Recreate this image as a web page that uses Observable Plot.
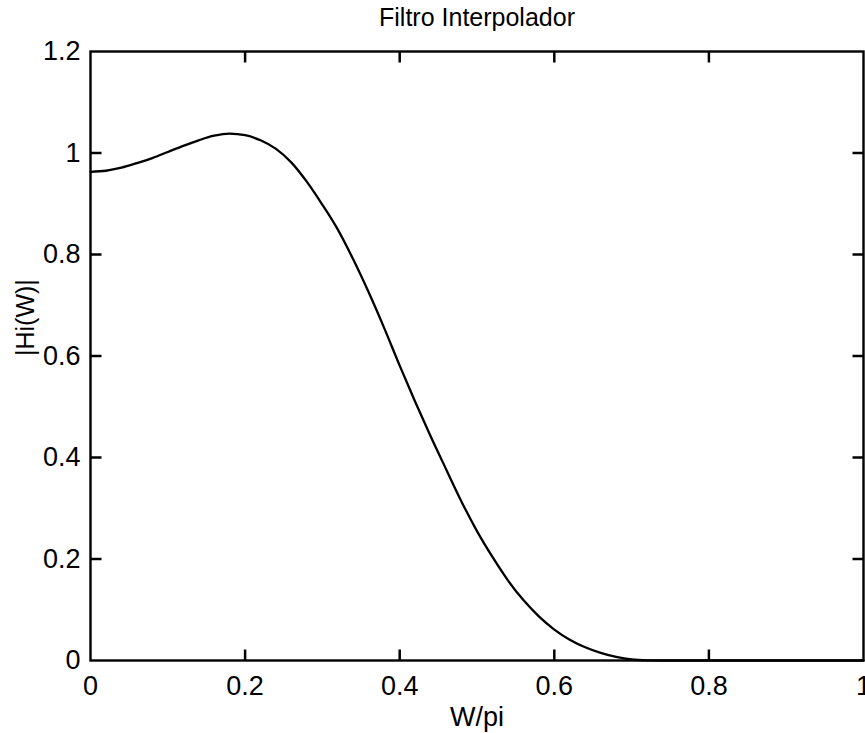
<!DOCTYPE html>
<html>
<head>
<meta charset="utf-8">
<script src="https://cdn.jsdelivr.net/npm/d3@7"></script>
<script src="https://cdn.jsdelivr.net/npm/@observablehq/plot@0.6"></script>
<style>
  html, body { margin: 0; padding: 0; background: #fff; }
  #chart svg { display: block; }
</style>
</head>
<body>
<div id="chart"></div>
<script>
// Magnitude response of the interpolating filter, |Hi(W)| against normalised frequency W/pi.
const freq = [
  0.00, 0.02, 0.04, 0.06, 0.08, 0.10, 0.12, 0.14, 0.16, 0.18,
  0.20, 0.22, 0.24, 0.26, 0.28, 0.30, 0.32, 0.34, 0.36, 0.38,
  0.40, 0.42, 0.44, 0.46, 0.48, 0.50, 0.52, 0.54, 0.56, 0.58,
  0.60, 0.62, 0.64, 0.66, 0.68, 0.70, 0.72, 0.74, 0.80, 0.85,
  0.90, 0.95, 1.00
];
const magnitude = [
  0.963, 0.965, 0.971, 0.980, 0.990, 1.002, 1.014, 1.025, 1.034, 1.038,
  1.035, 1.025, 1.008, 0.981, 0.943, 0.898, 0.849, 0.790, 0.725, 0.655,
  0.581, 0.510, 0.442, 0.377, 0.313, 0.255, 0.204, 0.158, 0.119, 0.087,
  0.061, 0.041, 0.026, 0.015, 0.007, 0.002, 0.0003, 0.000, 0.000, 0.000,
  0.000, 0.000, 0.000
];

const xTicks = [0, 0.2, 0.4, 0.6, 0.8, 1];
const xTickLabels = ["0", "0.2", "0.4", "0.6", "0.8", "1"];
const yTicks = [0, 0.2, 0.4, 0.6, 0.8, 1, 1.2];
const yTickLabels = ["0", "0.2", "0.4", "0.6", "0.8", "1", "1.2"];

const title = "Filtro Interpolador";
const xLabel = "W/pi";
const yLabel = "|Hi(W)|";

const response = freq.map((w, i) => ({w, h: magnitude[i]}));

// Figure geometry
const width = 865, height = 733;
const marginTop = 51, marginRight = 2, marginBottom = 73, marginLeft = 90;
const tickLen = 11;
const font = "'Liberation Sans', Arial, Helvetica, sans-serif";

// Interior ticks, drawn pointing inward on all four sides of the box
const xInner = xTicks.slice(1, -1);
const yInner = yTicks.slice(1, -1);
const tickStyle = {length: tickLen, anchor: "start", r: 0, stroke: "#000", strokeWidth: 2.5, strokeLinecap: "butt"};

const chart = Plot.plot({
  width, height, marginTop, marginRight, marginBottom, marginLeft,
  x: {domain: [0, 1]},
  y: {domain: [0, 1.2]},
  style: {fontFamily: font, fontSize: "27px", background: "#fff", color: "#000"},
  marks: [
    Plot.axisX(xTicks, {
      anchor: "bottom", tickSize: 0, tickPadding: 15, label: null,
      tickFormat: d => xTickLabels[xTicks.indexOf(d)], fontSize: 27
    }),
    Plot.axisY(yTicks, {
      anchor: "left", tickSize: 0, tickPadding: 10, label: null,
      tickFormat: d => yTickLabels[yTicks.indexOf(d)], fontSize: 27
    }),
    Plot.vector(xInner, {x: d => d, frameAnchor: "bottom", rotate: 0, ...tickStyle}),
    Plot.vector(xInner, {x: d => d, frameAnchor: "top", rotate: 180, ...tickStyle}),
    Plot.vector(yInner, {y: d => d, frameAnchor: "left", rotate: 90, ...tickStyle}),
    Plot.vector(yInner, {y: d => d, frameAnchor: "right", rotate: -90, ...tickStyle}),
    Plot.line(response, {x: "w", y: "h", curve: "monotone-x", stroke: "#000", strokeWidth: 2.3}),
    Plot.frame({stroke: "#000", strokeWidth: 2.4}),
    Plot.text([title], {
      text: d => d, frameAnchor: "top", dy: -26, lineAnchor: "bottom",
      fontSize: 25, fill: "#000"
    }),
    Plot.text([xLabel], {
      text: d => d, frameAnchor: "bottom", dy: 65, lineAnchor: "bottom",
      fontSize: 27, fill: "#000"
    }),
    Plot.text([yLabel], {
      text: d => d, frameAnchor: "left", dx: -57, rotate: -90, lineAnchor: "bottom",
      fontSize: 25, fill: "#000"
    })
  ]
});

document.getElementById("chart").append(chart);
</script>
</body>
</html>
